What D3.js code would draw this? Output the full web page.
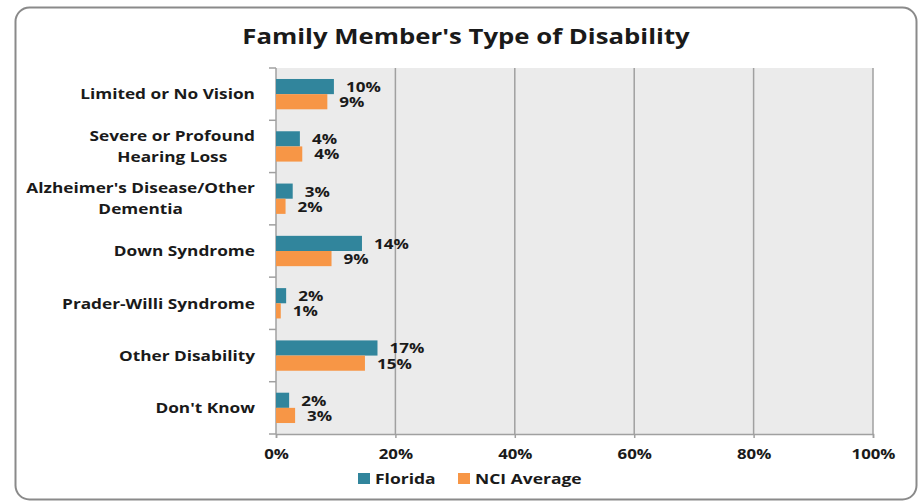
<html lang="en">
<head>
  <meta charset="utf-8"/>
  <title>Family Member's Type of Disability</title>
  <script src="https://d3js.org/d3.v7.min.js"></script>
  <style>
  body { margin:0; background:#fff; }
  text { font-family:"Open Sans", sans-serif; font-weight:bold; fill:#1a1a1a; }
  </style>
</head>
<body>
  <svg id="chart" width="923" height="503"></svg>
  <script>
    const categories = [
      ["Limited or No Vision"],
      ["Severe or Profound", "Hearing Loss"],
      ["Alzheimer's Disease/Other", "Dementia"],
      ["Down Syndrome"],
      ["Prader-Willi Syndrome"],
      ["Other Disability"],
      ["Don't Know"]
    ];
    const series = ["Florida", "NCI Average"];
    const florida = [9.7, 4.0, 2.8, 14.4, 1.7, 17.0, 2.2];
    const nciAverage = [8.6, 4.4, 1.6, 9.3, 0.8, 14.9, 3.2];
    const xTicks = [0, 20, 40, 60, 80, 100];
    const colors = ["#31859c", "#f79646"];

    const svg = d3.select("#chart");
    const plotLeft = 276, plotRight = 873, plotTop = 68, plotBottom = 434;

    // the original text is drawn wider than it is tall, so stretch it sideways
    function stretch(sel, s) {
      sel.each(function() {
        const t = d3.select(this);
        const tx = +t.attr("x") || 0, ty = +t.attr("y") || 0;
        t.attr("x", 0).attr("y", 0)
          .attr("transform", "translate(" + tx + "," + ty + ") scale(" + s + ",1)");
      });
    }

    // outer frame
    svg.append("rect").attr("x", 15.5).attr("y", 7.5).attr("width", 901).attr("height", 492)
      .attr("rx", 14).attr("fill", "#fff").attr("stroke", "#8a8a8a").attr("stroke-width", 2);

    svg.append("text").attr("x", 466).attr("y", 44).attr("text-anchor", "middle")
      .style("font-size", "22px").text("Family Member's Type of Disability")
      .call(stretch, 1.17);

    const x = d3.scaleLinear().domain([0, 100]).range([plotLeft, plotRight]);
    const y = d3.scaleBand().domain(d3.range(categories.length)).range([plotTop, plotBottom])
      .paddingInner(0.42).paddingOuter(0.21);
    const ySub = d3.scaleBand().domain(series).range([0, y.bandwidth()]);

    svg.append("rect").attr("x", plotLeft).attr("y", plotTop)
      .attr("width", plotRight - plotLeft).attr("height", plotBottom - plotTop)
      .attr("fill", "#ebebeb");

    // grid
    svg.append("g").selectAll("line").data(xTicks.slice(1)).join("line")
      .attr("x1", d => x(d)).attr("x2", d => x(d)).attr("y1", plotTop).attr("y2", plotBottom)
      .attr("stroke", "#a0a0a0").attr("stroke-width", 1.5);

    // x axis
    const xAxis = svg.append("g").attr("transform", "translate(0," + plotBottom + ")")
      .call(d3.axisBottom(x).tickValues(xTicks).tickFormat(d => d + "%").tickSize(4).tickPadding(11));
    xAxis.select(".domain").attr("stroke", "#a0a0a0").attr("stroke-width", 1.5);
    xAxis.selectAll(".tick line").attr("stroke", "#a0a0a0").attr("stroke-width", 1.5);
    xAxis.selectAll("text").style("font-size", "14px").attr("fill", "#1a1a1a")
      .attr("transform", "scale(1.2,1)");

    // y axis with category boundaries
    const bounds = d3.range(categories.length + 1)
      .map(i => plotTop + i * (plotBottom - plotTop) / categories.length);
    svg.append("line").attr("x1", plotLeft).attr("x2", plotLeft).attr("y1", plotTop).attr("y2", plotBottom)
      .attr("stroke", "#a0a0a0").attr("stroke-width", 1.5);
    svg.append("g").selectAll("line").data(bounds).join("line")
      .attr("x1", plotLeft - 7).attr("x2", plotLeft).attr("y1", d => d).attr("y2", d => d)
      .attr("stroke", "#a0a0a0").attr("stroke-width", 1.5);

    // bars
    const rows = categories.map((c, i) => [
      { s: "Florida", v: florida[i] },
      { s: "NCI Average", v: nciAverage[i] }
    ]);
    const groups = svg.append("g").selectAll("g").data(rows).join("g")
      .attr("transform", (d, i) => "translate(0," + y(i) + ")");
    groups.selectAll("rect").data(d => d).join("rect")
      .attr("x", x(0)).attr("y", d => ySub(d.s))
      .attr("width", d => x(d.v) - x(0)).attr("height", ySub.bandwidth())
      .attr("fill", (d, j) => colors[j]);
    groups.selectAll("text").data(d => d).join("text")
      .attr("x", d => x(d.v) + 12).attr("y", d => ySub(d.s) + ySub.bandwidth() / 2 + 0.5)
      .attr("dy", "0.35em").style("font-size", "14px")
      .text(d => Math.round(d.v) + "%")
      .call(stretch, 1.22);

    // category labels, lines centred on each other, block right-aligned
    const labelRight = 255, labelStretch = 1.15;
    categories.forEach((lines, i) => {
      const cy = y(i) + y.bandwidth() / 2;
      const t = svg.append("text").attr("text-anchor", "middle").style("font-size", "15px");
      const lh = 21;
      lines.forEach((l, k) => {
        t.append("tspan").attr("x", 0).attr("y", cy + (k - (lines.length - 1) / 2) * lh)
          .attr("dy", "0.35em").text(l);
      });
      let w = 0;
      t.selectAll("tspan").each(function() { w = Math.max(w, this.getComputedTextLength()); });
      t.attr("transform", "translate(" + (labelRight - labelStretch * w / 2) + ",0) scale(" + labelStretch + ",1)");
    });

    // legend
    const legendX = [358, 458];
    const legend = svg.append("g").selectAll("g").data(series).join("g")
      .attr("transform", (d, i) => "translate(" + legendX[i] + ",479)");
    legend.append("rect").attr("x", 0).attr("y", -6).attr("width", 12).attr("height", 11)
      .attr("fill", (d, i) => colors[i]);
    legend.append("text").attr("x", 17).attr("y", 0).attr("dy", "0.35em")
      .style("font-size", "14px").text(d => d)
      .call(stretch, 1.25);
  </script>
</body>
</html>
